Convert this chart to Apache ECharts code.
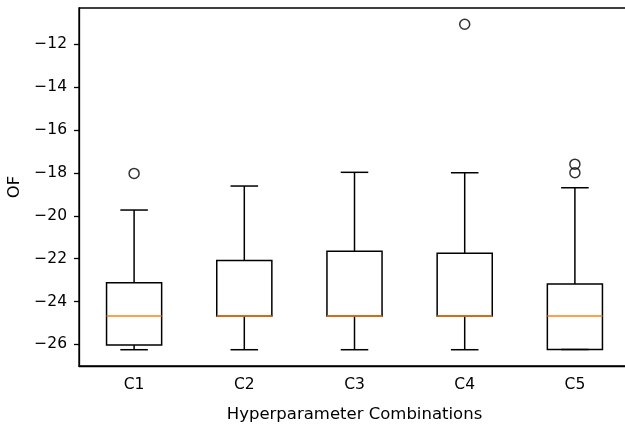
<!DOCTYPE html>
<html>
<head>
<meta charset="utf-8">
<script src="https://cdn.jsdelivr.net/npm/echarts@6/dist/echarts.min.js"></script>
<style>html,body{margin:0;padding:0;background:#fff;}#chart{width:625px;height:426px;}</style>
</head>
<body>
<div id="chart"></div>
<script>
var categories = ['C1', 'C2', 'C3', 'C4', 'C5'];
var whiskerLow  = [-26.25, -26.25, -26.25, -26.25, -26.24];
var q1          = [-26.03, -24.68, -24.68, -24.68, -26.24];
var medians     = [-24.68, -24.68, -24.68, -24.68, -24.68];
var q3          = [-23.13, -22.09, -21.65, -21.75, -23.18];
var whiskerHigh = [-19.73, -18.61, -17.97, -17.99, -18.69];
var outlierCat  = ['C1', 'C4', 'C5', 'C5'];
var outlierVal  = [-18.02, -11.06, -17.59, -17.99];
var yTicks = [-26, -24, -22, -20, -18, -16, -14, -12];
var yMin = -27.01, yMax = -10.30;

var boxData = categories.map(function (c, i) {
  return [i, whiskerLow[i], q1[i], medians[i], q3[i], whiskerHigh[i]];
});
var fliers = outlierCat.map(function (c, i) { return [c, outlierVal[i]]; });

var FONT = 'DejaVu Sans';
var LW = 1.5;

var chart = echarts.init(document.getElementById('chart'), null, {renderer: 'canvas'});
chart.setOption({
  animation: false,
  backgroundColor: '#fff',
  grid: {left: 79, top: 8, width: 551, height: 358, outerBoundsMode: 'none', containLabel: false, show: true, borderColor: '#000', borderWidth: 1.3, backgroundColor: 'transparent'},
  xAxis: {
    type: 'category',
    data: categories,
    boundaryGap: true,
    name: 'Hyperparameter Combinations',
    nameLocation: 'middle',
    nameGap: 40,
    nameTextStyle: {fontFamily: FONT, fontSize: 16.5, color: '#000'},
    axisLine: {lineStyle: {color: '#000', width: 1.3}},
    axisTick: {alignWithLabel: true, length: 5, lineStyle: {color: '#000', width: 1.3}},
    axisLabel: {fontFamily: FONT, fontSize: 15.5, color: '#000', margin: 11},
    splitLine: {show: false}
  },
  yAxis: {
    type: 'value',
    min: yMin,
    max: yMax,
    name: 'OF',
    nameLocation: 'middle',
    nameGap: 51,
    nameTextStyle: {fontFamily: FONT, fontSize: 16.5, color: '#000'},
    axisLine: {show: true, lineStyle: {color: '#000', width: 1.3}},
    axisTick: {show: true, length: 5, customValues: yTicks, lineStyle: {color: '#000', width: 1.3}},
    axisLabel: {
      fontFamily: FONT, fontSize: 15.5, color: '#000', margin: 12,
      customValues: yTicks,
      formatter: function (v) { return (v < 0 ? '\u2212' : '') + Math.abs(Math.round(v)); }
    },
    splitLine: {show: false}
  },
  series: [
    {
      type: 'custom',
      data: boxData,
      encode: {x: 0, y: [1, 2, 3, 4, 5]},
      renderItem: function (params, api) {
        var idx = api.value(0);
        var band = api.size([1, 0])[0];
        var bw = band * 0.5, cw = band * 0.25;
        var pLow = api.coord([idx, api.value(1)]);
        var pQ1 = api.coord([idx, api.value(2)]);
        var pMed = api.coord([idx, api.value(3)]);
        var pQ3 = api.coord([idx, api.value(4)]);
        var pHigh = api.coord([idx, api.value(5)]);
        var cx = pMed[0];
        var blk = {stroke: '#000', lineWidth: LW, fill: null};
        return {
          type: 'group',
          children: [
            {type: 'line', shape: {x1: cx, y1: pQ1[1], x2: cx, y2: pLow[1]}, style: blk},
            {type: 'line', shape: {x1: cx, y1: pQ3[1], x2: cx, y2: pHigh[1]}, style: blk},
            {type: 'line', shape: {x1: cx - cw / 2, y1: pLow[1], x2: cx + cw / 2, y2: pLow[1]}, style: blk},
            {type: 'line', shape: {x1: cx - cw / 2, y1: pHigh[1], x2: cx + cw / 2, y2: pHigh[1]}, style: blk},
            {type: 'rect', shape: {x: cx - bw / 2, y: pQ3[1], width: bw, height: pQ1[1] - pQ3[1]}, style: {stroke: '#000', lineWidth: LW, fill: null}},
            {type: 'line', shape: {x1: cx - bw / 2, y1: pMed[1], x2: cx + bw / 2, y2: pMed[1]}, style: {stroke: '#ff7f0e', lineWidth: LW}}
          ]
        };
      }
    },
    {
      type: 'scatter',
      data: fliers,
      symbol: 'circle',
      symbolSize: 10,
      itemStyle: {color: 'rgba(0,0,0,0)', borderColor: '#000', borderWidth: 1.5}
    }
  ]
});
</script>
</body>
</html>
